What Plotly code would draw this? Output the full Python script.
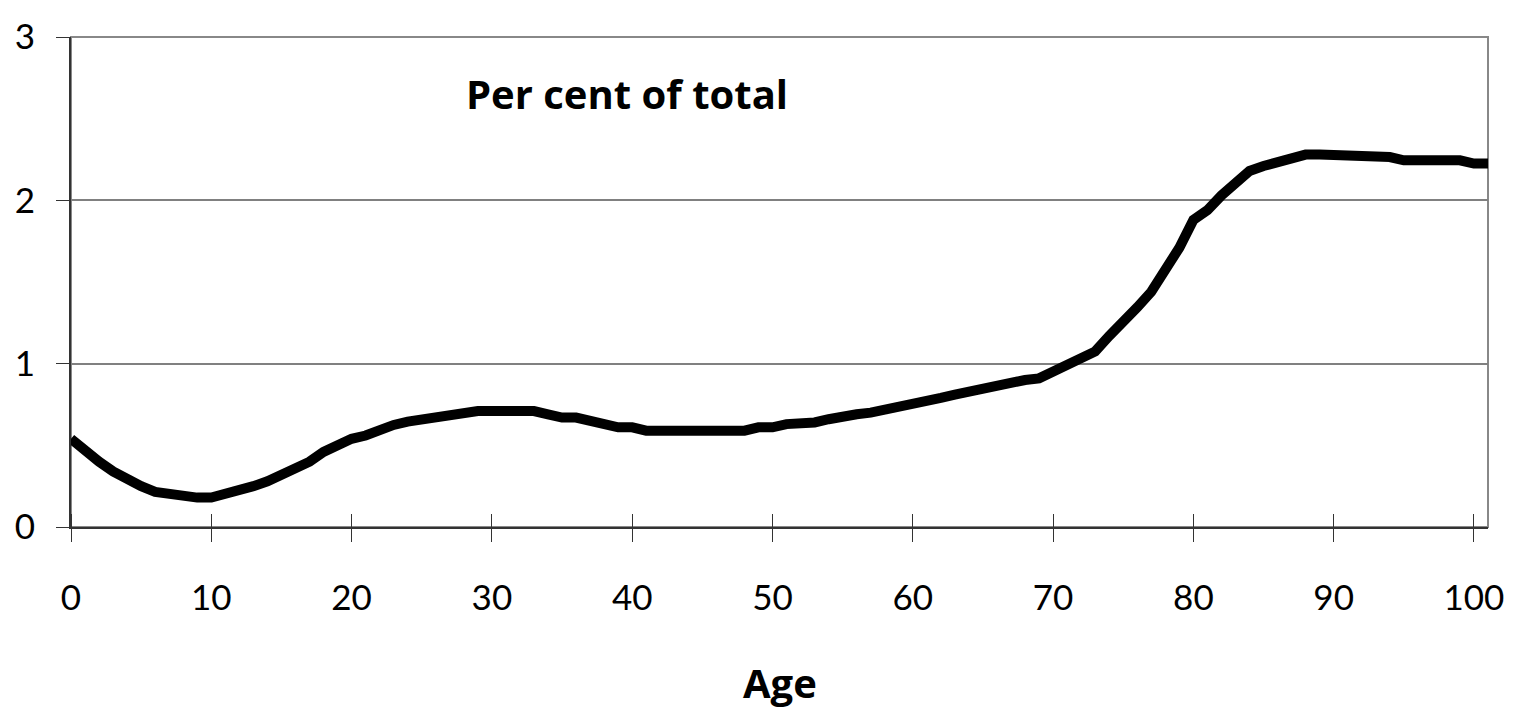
import plotly.graph_objects as go

ages = list(range(0, 102))
per_cent = [
    0.54, 0.46, 0.40, 0.34, 0.29, 0.25, 0.215, 0.20, 0.18, 0.18,
    0.18, 0.20, 0.225, 0.25, 0.28, 0.32, 0.36, 0.40, 0.46, 0.50,
    0.54, 0.56, 0.60, 0.625, 0.645, 0.66, 0.665, 0.69, 0.69, 0.71,
    0.71, 0.71, 0.71, 0.71, 0.69, 0.67, 0.67, 0.645, 0.62, 0.61,
    0.61, 0.59, 0.59, 0.59, 0.59, 0.59, 0.59, 0.59, 0.59, 0.61,
    0.61, 0.63, 0.63, 0.64, 0.66, 0.68, 0.69, 0.70, 0.715, 0.735,
    0.755, 0.775, 0.79, 0.81, 0.83, 0.85, 0.87, 0.875, 0.90, 0.91,
    0.95, 0.98, 1.02, 1.075, 1.17, 1.25, 1.345, 1.44, 1.58, 1.71,
    1.88, 1.94, 2.03, 2.11, 2.18, 2.21, 2.23, 2.25, 2.28, 2.28,
    2.28, 2.265, 2.265, 2.265, 2.265, 2.245, 2.245, 2.245, 2.245, 2.245,
    2.225, 2.225,
]
x_ticks = list(range(0, 101, 10))
y_ticks = [0, 1, 2, 3]
title_text = "Per cent of total"
x_title = "Age"

FONT = "Lato, 'Open Sans', sans-serif"
BOLD_FONT = "'Open Sans', Lato, sans-serif"

fig = go.Figure()
fig.add_trace(go.Scatter(
    x=ages, y=per_cent, mode="lines",
    line=dict(color="black", width=10),
    showlegend=False, hoverinfo="skip",
))
# invisible companion trace so the crossing-tick axis is drawn
fig.add_trace(go.Scatter(x=[ages[0]], y=[per_cent[0]], xaxis="x2", yaxis="y",
                         mode="markers", marker=dict(opacity=0),
                         showlegend=False, hoverinfo="skip"))

fig.update_layout(
    width=1516, height=717,
    margin=dict(l=71, r=23, t=37, b=190),
    paper_bgcolor="white", plot_bgcolor="white",
    font=dict(family=FONT, color="black", size=35),
    xaxis=dict(
        range=[0, 101], tickvals=x_ticks, ticktext=[str(v) for v in x_ticks],
        showgrid=False, zeroline=False,
        showline=True, linecolor="#333333", linewidth=2,
        ticks="outside", ticklen=13, tickwidth=1, tickcolor="#333333",
        tickfont=dict(size=35, family=FONT),
        ticklabelstandoff=26,
    ),
    xaxis2=dict(
        range=[0, 101], tickvals=x_ticks, overlaying="x",
        anchor="free", position=0, side="top",
        showgrid=False, zeroline=False, showline=False,
        ticks="outside", ticklen=13, tickwidth=1, tickcolor="#333333",
        showticklabels=False,
    ),
    yaxis=dict(
        range=[0, 3], tickvals=y_ticks, ticktext=["0", "1", "2", "3"],
        showgrid=True, gridcolor="#808080", gridwidth=1.5,
        zeroline=False,
        showline=True, linecolor="#333333", linewidth=2,
        ticks="outside", ticklen=13, tickwidth=1, tickcolor="#333333",
        tickfont=dict(size=35, family=FONT),
        ticklabelstandoff=14,
    ),
    shapes=[dict(
        type="rect", xref="paper", yref="paper", x0=0, x1=1, y0=0, y1=1,
        line=dict(color="#888888", width=2), layer="below",
    )],
    annotations=[
        dict(text="<b>" + title_text + "</b>", xref="paper", yref="paper",
             x=0.277, y=0.885, xanchor="left", yanchor="middle",
             showarrow=False, font=dict(size=40, family=BOLD_FONT)),
        dict(text="<b>" + x_title + "</b>", xref="paper", yref="paper",
             x=0.5, y=-0.318, xanchor="center", yanchor="middle",
             showarrow=False, font=dict(size=40, family=BOLD_FONT)),
    ],
)

fig.write_html("out.html", config={"displayModeBar": False},
               post_script="document.body.style.margin='0px';")
